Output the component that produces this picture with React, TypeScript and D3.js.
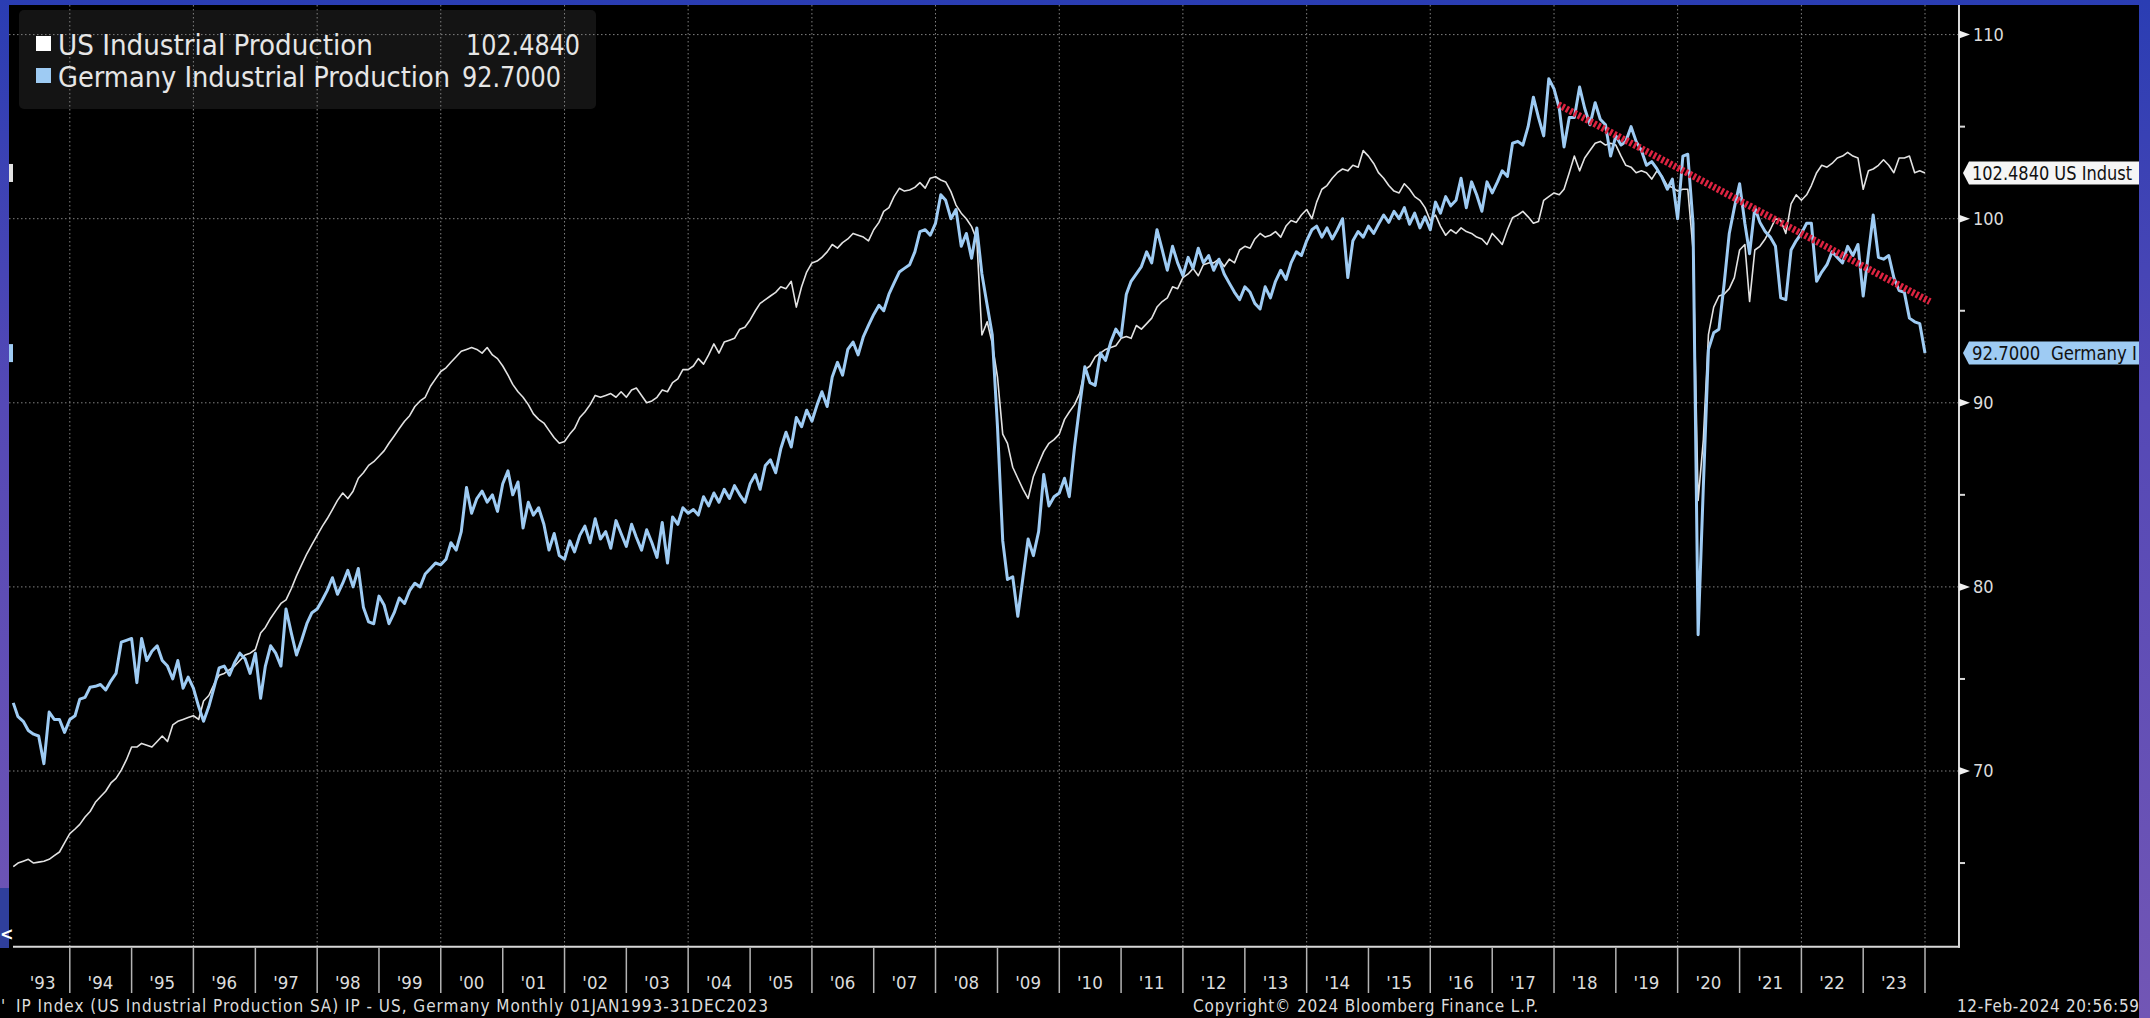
import React, { useEffect, useRef } from "react";
import * as d3 from "d3";

const W = 2150;
const H = 1018;

// monthly index values, Jan 1993 .. Dec 2023
const usIP = [
  64.8, 65.0, 65.1, 65.2, 65.0, 65.05, 65.1, 65.2, 65.4, 65.6, 66.1, 66.6, // 1993
  66.85, 67.1, 67.5, 67.8, 68.3, 68.6, 68.9, 69.35, 69.6, 70.05, 70.6, 71.3, // 1994
  71.3, 71.5, 71.4, 71.3, 71.6, 71.9, 71.6, 72.5, 72.7, 72.8, 72.9, 73.0, // 1995
  72.8, 73.8, 74.1, 74.7, 75.2, 75.3, 75.5, 75.7, 76.0, 76.3, 76.4, 76.6, // 1996
  77.5, 77.8, 78.3, 78.7, 79.1, 79.3, 79.9, 80.6, 81.2, 81.8, 82.3, 82.8, // 1997
  83.3, 83.7, 84.2, 84.7, 85.1, 84.8, 85.2, 85.9, 86.2, 86.6, 86.8, 87.1, // 1998
  87.4, 87.8, 88.2, 88.6, 89.0, 89.3, 89.8, 90.1, 90.3, 90.9, 91.3, 91.7, // 1999
  91.9, 92.2, 92.5, 92.8, 92.9, 93.0, 92.9, 92.7, 93.0, 92.6, 92.4, 92.0, // 2000
  91.5, 91.0, 90.6, 90.3, 89.9, 89.4, 89.1, 88.9, 88.5, 88.1, 87.8, 87.9, // 2001
  88.3, 88.6, 89.2, 89.5, 89.9, 90.4, 90.3, 90.4, 90.5, 90.3, 90.6, 90.3, // 2002
  90.7, 90.8, 90.4, 90.0, 90.1, 90.3, 90.7, 90.6, 91.1, 91.3, 91.8, 91.8, // 2003
  92.0, 92.4, 92.1, 92.6, 93.2, 92.7, 93.3, 93.4, 93.5, 94.0, 94.1, 94.5, // 2004
  95.0, 95.4, 95.6, 95.8, 96.0, 96.3, 96.2, 96.6, 95.2, 96.3, 97.1, 97.6, // 2005
  97.7, 97.9, 98.2, 98.6, 98.4, 98.7, 98.9, 99.2, 99.1, 99.0, 98.8, 99.4, // 2006
  99.8, 100.4, 100.6, 101.2, 101.65, 101.5, 101.56, 101.7, 101.96, 101.66, 102.2, 102.28, // 2007
  102.1, 102.0, 101.47, 100.74, 100.3, 100.0, 99.57, 98.84, 93.68, 94.4, 93.23, 91.4, // 2008
  88.3, 87.8, 86.5, 85.9, 85.3, 84.8, 86.0, 86.7, 87.35, 87.8, 88.0, 88.3, // 2009
  89.1, 89.5, 89.9, 90.5, 91.8, 92.0, 92.5, 92.7, 92.9, 93.0, 93.1, 93.5, // 2010
  93.6, 93.5, 94.2, 94.0, 94.3, 94.6, 95.2, 95.5, 95.7, 96.3, 96.2, 96.8, // 2011
  97.0, 97.3, 96.9, 97.5, 97.6, 97.6, 97.8, 97.4, 97.8, 97.6, 98.3, 98.5, // 2012
  98.4, 98.9, 99.2, 99.0, 99.1, 99.3, 99.0, 99.6, 99.9, 99.8, 100.2, 100.5, // 2013
  100.0, 100.9, 101.6, 101.8, 102.2, 102.5, 102.7, 102.6, 102.9, 102.8, 103.7, 103.4, // 2014
  103.0, 102.5, 102.2, 101.8, 101.5, 101.4, 101.9, 101.6, 101.2, 101.0, 100.6, 99.9, // 2015
  100.2, 99.6, 99.1, 99.4, 99.2, 99.5, 99.3, 99.2, 99.0, 98.9, 98.6, 99.2, // 2016
  98.9, 98.6, 99.4, 100.06, 100.2, 100.4, 100.1, 99.75, 99.85, 101.0, 101.2, 101.4, // 2017
  101.3, 101.6, 102.5, 103.4, 102.6, 103.3, 103.7, 104.1, 104.2, 104.0, 104.1, 104.0, // 2018
  103.4, 102.9, 102.8, 102.5, 102.6, 102.5, 102.15, 102.6, 102.3, 101.8, 101.7, 101.5, // 2019
  101.6, 101.6, 98.3, 84.7, 88.0, 93.7, 95.2, 95.8, 95.9, 96.2, 96.8, 98.3, // 2020
  98.6, 95.5, 98.3, 98.5, 98.9, 99.4, 100.0, 99.9, 99.2, 100.8, 101.3, 101.0, // 2021
  101.3, 101.8, 102.5, 102.9, 102.8, 103.0, 103.3, 103.4, 103.6, 103.4, 103.3, 101.6, // 2022
  102.6, 102.7, 102.9, 103.2, 102.9, 102.5, 103.3, 103.3, 103.4, 102.5, 102.6, 102.484, // 2023
];

const germanyIP = [
  73.7, 72.95, 72.7, 72.2, 72.0, 71.9, 70.4, 73.2, 72.8, 72.8, 72.1, 72.8, // 1993
  73.0, 73.9, 74.0, 74.55, 74.6, 74.7, 74.4, 74.9, 75.3, 77.0, 77.1, 77.2, // 1994
  74.8, 77.2, 76.0, 76.5, 76.8, 76.0, 75.7, 75.0, 76.0, 74.5, 75.1, 74.5, // 1995
  73.5, 72.7, 73.5, 74.5, 75.6, 75.7, 75.2, 75.9, 76.4, 76.1, 75.3, 76.4, // 1996
  73.95, 75.7, 76.8, 76.4, 75.7, 78.8, 77.5, 76.3, 77.1, 78.0, 78.6, 78.8, // 1997
  79.3, 79.8, 80.5, 79.6, 80.2, 80.9, 80.0, 81.0, 78.9, 78.1, 78.0, 79.5, // 1998
  79.0, 78.0, 78.6, 79.4, 79.1, 79.8, 80.2, 80.0, 80.7, 81.0, 81.3, 81.2, // 1999
  81.5, 82.4, 82.0, 83.0, 85.4, 84.0, 84.8, 85.2, 84.6, 85.0, 84.1, 85.6, // 2000
  86.3, 85.0, 85.7, 83.2, 84.6, 83.9, 84.3, 83.4, 82.0, 82.9, 81.7, 81.5, // 2001
  82.5, 81.9, 82.8, 83.3, 82.4, 83.7, 82.6, 83.0, 82.1, 83.6, 82.9, 82.2, // 2002
  83.4, 82.7, 82.0, 83.1, 82.4, 81.6, 83.5, 81.3, 83.8, 83.4, 84.3, 84.0, // 2003
  84.2, 83.9, 84.9, 84.4, 85.1, 84.6, 85.3, 84.8, 85.5, 85.0, 84.6, 85.6, // 2004
  86.1, 85.3, 86.6, 86.9, 86.2, 87.5, 88.4, 87.6, 89.2, 88.7, 89.6, 89.0, // 2005
  89.9, 90.6, 89.8, 91.4, 92.2, 91.5, 92.9, 93.3, 92.6, 93.6, 94.2, 94.8, // 2006
  95.3, 95.0, 95.9, 96.5, 97.1, 97.3, 97.5, 98.2, 99.3, 99.4, 99.1, 99.75, // 2007
  101.3, 101.0, 100.0, 100.5, 98.5, 99.2, 97.85, 99.5, 97.0, 95.3, 93.7, 88.7, // 2008
  82.5, 80.4, 80.55, 78.4, 80.55, 82.6, 81.7, 83.0, 86.1, 84.4, 84.9, 85.1, // 2009
  85.9, 84.9, 87.6, 89.8, 91.96, 91.1, 90.95, 92.7, 92.3, 93.3, 94.0, 93.6, // 2010
  95.9, 96.6, 97.0, 97.4, 98.2, 97.6, 99.4, 98.3, 97.2, 98.5, 97.6, 96.9, // 2011
  97.9, 97.3, 98.4, 97.6, 98.0, 97.2, 97.8, 97.0, 96.5, 96.0, 95.6, 96.3, // 2012
  96.0, 95.4, 95.1, 96.3, 95.7, 96.6, 97.2, 96.7, 97.6, 98.2, 98.0, 98.8, // 2013
  99.4, 99.6, 99.0, 99.5, 98.9, 99.4, 100.0, 96.8, 98.8, 99.3, 99.0, 99.6, // 2014
  99.2, 99.7, 100.2, 99.8, 100.4, 100.0, 100.6, 99.7, 100.3, 99.5, 100.1, 99.4, // 2015
  100.9, 100.3, 101.2, 100.7, 101.0, 102.2, 100.6, 102.0, 101.3, 100.4, 102.0, 101.4, // 2016
  102.0, 102.6, 102.3, 104.1, 104.2, 104.0, 105.0, 106.6, 105.5, 104.5, 107.6, 107.05, // 2017
  106.0, 103.9, 105.5, 105.5, 107.15, 106.0, 105.1, 106.3, 105.4, 105.1, 103.4, 104.5, // 2018
  104.0, 104.2, 105.0, 104.2, 103.7, 102.9, 103.1, 102.7, 102.25, 101.6, 102.15, 100.0, // 2019
  103.4, 103.5, 99.75, 77.4, 85.5, 92.9, 93.8, 94.0, 96.4, 99.2, 100.6, 101.9, // 2020
  99.75, 98.1, 100.6, 99.8, 99.3, 99.0, 98.5, 95.7, 95.6, 98.3, 98.8, 99.2, // 2021
  99.75, 99.75, 96.6, 97.1, 97.5, 98.2, 97.9, 97.6, 98.5, 98.0, 98.6, 95.8, // 2022
  98.1, 100.2, 97.9, 97.8, 98.0, 96.8, 96.1, 96.0, 94.6, 94.4, 94.3, 92.7, // 2023
];

// hand drawn trend line on the German series
const trendDates = [new Date(2018, 0, 26), new Date(2024, 0, 30)];
const trendValues = [106.2, 95.5];

const yTicks = [70, 80, 90, 100, 110];
const yMinorTicks = [65, 75, 85, 95, 105];
const yearLabels = [
  "'93", "'94", "'95", "'96", "'97", "'98", "'99", "'00", "'01", "'02", "'03",
  "'04", "'05", "'06", "'07", "'08", "'09", "'10", "'11", "'12", "'13", "'14",
  "'15", "'16", "'17", "'18", "'19", "'20", "'21", "'22", "'23",
];

const seriesNames = ["US Industrial Production", "Germany Industrial Production"];
const lastValues = ["102.4840", "92.7000"];
const tagTexts = ["102.4840 US Indust", "92.7000  Germany I"];
const colors = ["#e2e2e2", "#9ecbf3"];

const footerLeft = "IP Index (US Industrial Production SA) IP - US, Germany  Monthly 01JAN1993-31DEC2023";
const footerMid = "Copyright\u00a9 2024 Bloomberg Finance L.P.";
const footerRight = "12-Feb-2024 20:56:59";

const font = "'DejaVu Sans Condensed', 'DejaVu Sans', sans-serif";

export default function App() {
  const ref = useRef<SVGSVGElement>(null);

  useEffect(() => {
    document.body.style.margin = "0";
    const svg = d3.select(ref.current);
    svg.selectAll("*").remove();

    const plotLeft = 9;
    const plotTop = 5;
    const axisX = 1959;
    const axisY = 946.7;

    const firstYear = 1993;
    const months = d3.range(usIP.length).map((i) => new Date(firstYear, i + 1, 1));

    const x = d3
      .scaleTime()
      .domain([new Date(1993, 0, 1), new Date(2024, 0, 1)])
      .range([8, 1925]);
    const y = d3.scaleLinear().domain([70, 110]).range([771, 34.6]);

    const defs = svg.append("defs");
    const grad = defs
      .append("linearGradient")
      .attr("id", "frame")
      .attr("x1", 0)
      .attr("y1", 0)
      .attr("x2", 0)
      .attr("y2", 1);
    grad.append("stop").attr("offset", "0%").attr("stop-color", "#2a3db3");
    grad.append("stop").attr("offset", "40%").attr("stop-color", "#5549b6");
    grad.append("stop").attr("offset", "100%").attr("stop-color", "#7256b5");

    defs
      .append("clipPath")
      .attr("id", "plot")
      .append("rect")
      .attr("x", plotLeft)
      .attr("y", plotTop)
      .attr("width", axisX - plotLeft)
      .attr("height", axisY - plotTop);
    defs
      .append("clipPath")
      .attr("id", "edge")
      .append("rect")
      .attr("x", 0)
      .attr("y", 0)
      .attr("width", 2139)
      .attr("height", H);

    // frame + black panel
    svg.append("rect").attr("width", W).attr("height", H).attr("fill", "url(#frame)");
    svg.append("rect").attr("x", 0).attr("y", 888).attr("width", 9).attr("height", 60).attr("fill", "#2f3f9c");
    svg
      .append("rect")
      .attr("x", plotLeft)
      .attr("y", plotTop)
      .attr("width", 2139 - plotLeft)
      .attr("height", H - plotTop)
      .attr("fill", "#000");
    svg.append("rect").attr("x", 0).attr("y", 948).attr("width", 10).attr("height", 70).attr("fill", "#000");
    svg
      .append("text")
      .attr("x", 0)
      .attr("y", 940)
      .attr("fill", "#fff")
      .attr("font-family", font)
      .attr("font-weight", "bold")
      .attr("font-size", 18)
      .text("<");

    // legend panel
    svg
      .append("rect")
      .attr("x", 19)
      .attr("y", 10)
      .attr("width", 577)
      .attr("height", 99)
      .attr("rx", 5)
      .attr("fill", "#141414");

    // grid
    const grid = svg.append("g").attr("stroke", "#808080").attr("stroke-width", 1).attr("stroke-dasharray", "1.5,2.5");
    grid
      .selectAll("line.h")
      .data(yTicks)
      .enter()
      .append("line")
      .attr("x1", plotLeft)
      .attr("x2", axisX)
      .attr("y1", (d) => y(d))
      .attr("y2", (d) => y(d));
    const gridYears = d3.timeYear.every(2)!.range(new Date(1994, 0, 1), new Date(2024, 0, 2));
    grid
      .selectAll("line.v")
      .data(gridYears)
      .enter()
      .append("line")
      .attr("x1", (d) => x(d))
      .attr("x2", (d) => x(d))
      .attr("y1", plotTop)
      .attr("y2", axisY);

    // series
    const line = d3
      .line<number>()
      .x((_, i) => x(months[i]))
      .y((d) => y(d));
    const plot = svg.append("g").attr("clip-path", "url(#plot)");
    plot
      .append("path")
      .attr("d", line(usIP))
      .attr("fill", "none")
      .attr("stroke", colors[0])
      .attr("stroke-width", 1.6)
      .attr("stroke-linejoin", "round");
    plot
      .append("path")
      .attr("d", line(germanyIP))
      .attr("fill", "none")
      .attr("stroke", colors[1])
      .attr("stroke-width", 3)
      .attr("stroke-linejoin", "round");

    // trend line
    const trend = d3
      .line<number>()
      .x((_, i) => x(trendDates[i]))
      .y((d) => y(d));
    svg
      .append("path")
      .attr("d", trend(trendValues))
      .attr("fill", "none")
      .attr("stroke", "#dc2340")
      .attr("stroke-width", 7)
      .attr("stroke-dasharray", "2.6,1.9");

    // left edge markers
    [usIP[usIP.length - 1], germanyIP[germanyIP.length - 1]].forEach((v, i) => {
      svg
        .append("rect")
        .attr("x", 9)
        .attr("y", y(v) - 9)
        .attr("width", 4)
        .attr("height", 18)
        .attr("fill", colors[i]);
    });

    // legend
    const nameWidths = [315, 392];
    const valueWidths = [114, 99];
    seriesNames.forEach((name, i) => {
      const base = 55 + i * 32;
      svg
        .append("rect")
        .attr("x", 36)
        .attr("y", base - 19)
        .attr("width", 15)
        .attr("height", 15)
        .attr("fill", i === 0 ? "#ffffff" : colors[1]);
      svg
        .append("text")
        .attr("x", 58)
        .attr("y", base)
        .attr("fill", "#e6e6e6")
        .attr("font-family", font)
        .attr("font-size", 28)
        .attr("textLength", nameWidths[i])
        .attr("lengthAdjust", "spacingAndGlyphs")
        .text(name);
      svg
        .append("text")
        .attr("x", i === 0 ? 466 : 462)
        .attr("y", base)
        .attr("fill", "#e6e6e6")
        .attr("font-family", font)
        .attr("font-size", 28)
        .attr("textLength", valueWidths[i])
        .attr("lengthAdjust", "spacingAndGlyphs")
        .text(lastValues[i]);
    });

    // right axis
    svg
      .append("line")
      .attr("x1", axisX)
      .attr("x2", axisX)
      .attr("y1", plotTop)
      .attr("y2", axisY + 1)
      .attr("stroke", "#d8d8d8")
      .attr("stroke-width", 2);
    svg
      .selectAll("path.ytick")
      .data(yTicks)
      .enter()
      .append("path")
      .attr("d", (d) => `M${axisX},${y(d) - 4}L${axisX + 11},${y(d)}L${axisX},${y(d) + 4}Z`)
      .attr("fill", "#f0f0f0");
    svg
      .selectAll("line.ymin")
      .data(yMinorTicks)
      .enter()
      .append("line")
      .attr("x1", axisX)
      .attr("x2", axisX + 6)
      .attr("y1", (d) => y(d))
      .attr("y2", (d) => y(d))
      .attr("stroke", "#d8d8d8")
      .attr("stroke-width", 2);
    svg
      .selectAll("text.ylab")
      .data(yTicks)
      .enter()
      .append("text")
      .attr("x", axisX + 14)
      .attr("y", (d) => y(d))
      .attr("dy", "0.36em")
      .attr("fill", "#dcdcdc")
      .attr("font-family", font)
      .attr("font-size", 18)
      .text((d) => String(d));

    // last value tags
    const tagWidths = [160, 165];
    const tags = svg.append("g").attr("clip-path", "url(#edge)");
    [usIP[usIP.length - 1], germanyIP[germanyIP.length - 1]].forEach((v, i) => {
      const cy = y(v);
      tags
        .append("path")
        .attr("d", `M1963,${cy}L1969,${cy - 11.5}L2145,${cy - 11.5}L2145,${cy + 11.5}L1969,${cy + 11.5}Z`)
        .attr("fill", i === 0 ? "#f5f5f5" : colors[1]);
      tags
        .append("text")
        .attr("x", 1972)
        .attr("y", cy)
        .attr("dy", "0.36em")
        .attr("fill", "#111")
        .attr("font-family", font)
        .attr("font-size", 19)
        .attr("textLength", tagWidths[i])
        .attr("lengthAdjust", "spacingAndGlyphs")
        .style("white-space", "pre")
        .text(tagTexts[i]);
    });

    // bottom axis
    svg
      .append("line")
      .attr("x1", 13)
      .attr("x2", axisX + 1)
      .attr("y1", axisY)
      .attr("y2", axisY)
      .attr("stroke", "#d8d8d8")
      .attr("stroke-width", 2);
    const yearStarts = d3.timeYear.range(new Date(1994, 0, 1), new Date(2024, 0, 2));
    svg
      .selectAll("line.sep")
      .data(yearStarts)
      .enter()
      .append("line")
      .attr("x1", (d) => x(d))
      .attr("x2", (d) => x(d))
      .attr("y1", axisY + 1)
      .attr("y2", 993)
      .attr("stroke", "#b4b4b4")
      .attr("stroke-width", 1.5);
    svg
      .selectAll("text.year")
      .data(yearLabels)
      .enter()
      .append("text")
      .attr("x", (_, i) => x(new Date(firstYear + i, 6, 1)) + (i === 0 ? 4 : 0))
      .attr("y", 989)
      .attr("text-anchor", "middle")
      .attr("fill", "#dcdcdc")
      .attr("font-family", font)
      .attr("font-size", 18.5)
      .text((d) => d);

    // footer
    const foot = svg
      .append("g")
      .attr("fill", "#dcdcdc")
      .attr("font-family", font)
      .attr("font-size", 17)
      .attr("lengthAdjust", "spacingAndGlyphs");
    foot.append("text").attr("x", 1).attr("y", 1012).text("'");
    foot.append("text").attr("x", 16).attr("y", 1012).attr("textLength", 752).text(footerLeft);
    foot.append("text").attr("x", 1193).attr("y", 1012).attr("textLength", 345).text(footerMid);
    foot
      .append("text")
      .attr("x", 1957)
      .attr("y", 1012)
      .attr("textLength", 182)
      .text(footerRight);
  }, []);

  return <svg ref={ref} width={W} height={H} style={{ display: "block" }} />;
}
